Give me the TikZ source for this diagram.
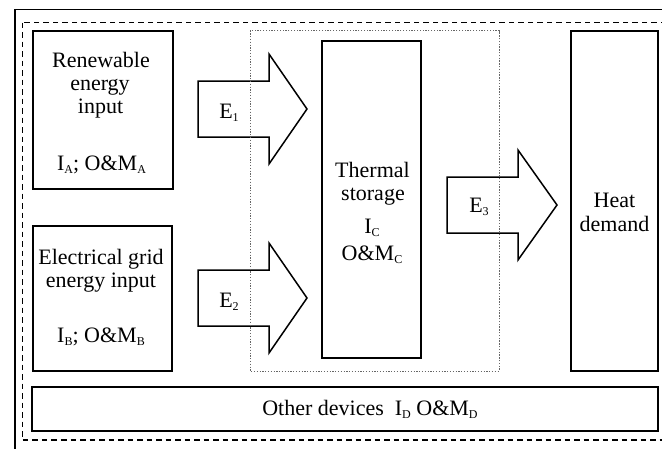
\documentclass[tikz,border=0pt]{standalone}
\usepackage{fontspec}
\setmainfont{Liberation Serif}
\newcommand\lsub[1]{\raisebox{-3pt}{\fontsize{12}{12}\selectfont #1}}
\begin{document}
\begin{tikzpicture}[x=1pt,y=-1pt,
  blk/.style={draw,line width=1.5pt,rectangle,inner sep=0pt},
  txt/.style={inner sep=0pt,anchor=base,font=\fontsize{22}{24}\selectfont},
  barrow/.style={draw,line width=1.5pt,line join=miter,fill=white},
  outerframe/.style={draw,line width=1.9pt},
  dashframe/.style={draw,line width=1.5pt,dash pattern=on 5.5pt off 4pt},
  dotframe/.style={draw,line width=0.9pt,gray!80!black,dash pattern=on 1.3pt off 1.5pt}]
\useasboundingbox (0,0) rectangle (662,448);
\clip (0,0) rectangle (662,448);
\fill[white] (0,0) rectangle (662,448);
% frames
\path[outerframe] (15,9.5) rectangle (720,520);
\path[dashframe] (22.5,22.5) rectangle (720,440);
% boxes
\node[blk,minimum width=140pt,minimum height=158pt] (ren) at (103,110) {};
\node[blk,minimum width=139pt,minimum height=145pt] (grid) at (102.5,298.5) {};
\node[blk,minimum width=99pt,minimum height=317pt] (ts) at (371.5,199.5) {};
\node[blk,minimum width=87pt,minimum height=340pt] (heat) at (614.5,201) {};
\node[blk,minimum width=626pt,minimum height=44pt] (oth) at (345,409) {};
% block arrows
\path[barrow] (198,81) -- (269,81) -- (269,54) -- (307,109) -- (269,164) -- (269,137) -- (198,137) -- cycle;
\path[barrow] (198,270) -- (269,270) -- (269,243) -- (307,298) -- (269,353) -- (269,326) -- (198,326) -- cycle;
\path[barrow] (447,177) -- (518,177) -- (518,150) -- (557,205) -- (518,260) -- (518,233) -- (447,233) -- cycle;
% dotted boundary
\path[dotframe] (250,30.5) rectangle (499,371);
% texts
\node[txt] (r1) at (101,67) {Renewable};
\node[txt] (r2) at (100,90) {energy};
\node[txt] (r3) at (100.5,113) {input};
\node[txt] (r4) at (101.5,170) {I\lsub{A}; O\&M\lsub{A}};
\node[txt] (g1) at (101,264) {Electrical grid};
\node[txt] (g2) at (101,287.5) {energy input};
\node[txt] (g3) at (101,342.5) {I\lsub{B}; O\&M\lsub{B}};
\node[txt] (t1) at (372.5,177) {Thermal};
\node[txt] (t2) at (373,200) {storage};
\node[txt] (t3) at (372,233) {I\lsub{C}};
\node[txt] (t4) at (372,260) {O\&M\lsub{C}};
\node[txt] (h1) at (614.5,207) {Heat};
\node[txt] (h2) at (614.5,231) {demand};
\node[txt] (e1) at (229,118) {E\lsub{1}};
\node[txt] (e2) at (229,307) {E\lsub{2}};
\node[txt] (e3) at (479,212) {E\lsub{3}};
\node[txt] (o1) at (370,415) {Other devices\ \ I\lsub{D} O\&M\lsub{D}};
\end{tikzpicture}
\end{document}
